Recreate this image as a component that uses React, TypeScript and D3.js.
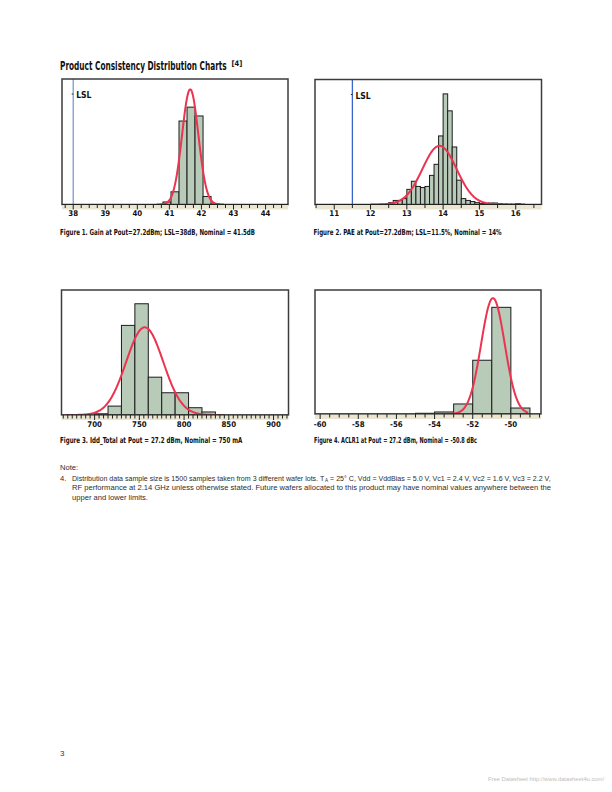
import React, { useLayoutEffect, useRef, useState } from 'react';
import * as d3 from 'd3';

const FONT = "'Liberation Sans Narrow', 'DejaVu Sans Condensed', 'Arial Narrow', sans-serif";
const BODY_FONT = "'Liberation Sans Narrow', 'Liberation Sans', 'DejaVu Sans', Arial, sans-serif";

// ---------- Figure 1: Gain ----------
const gainBinStart = 40.8;
const gainBinWidth = 0.25;
const gainCounts = [13, 65, 427, 498, 453, 41, 3];
const gainFit = { mean: 41.65, sd: 0.254, from: 40.6, to: 42.7 };
const gainTicks = [38, 39, 40, 41, 42, 43, 44];

// ---------- Figure 2: PAE ----------
const paeBinStart = 12.5;
const paeBinWidth = 0.125;
const paeCounts = [5, 11, 11, 16, 41, 63, 49, 46, 49, 79, 109, 186, 300, 254, 156, 66, 16, 11, 8, 5, 3, 3, 4, 4, 2, 1, 1, 1, 2, 1];
const paeFit = { mean: 13.9, sd: 0.47, from: 12.0, to: 15.8 };
const paeTicks = [11, 12, 13, 14, 15, 16];

// ---------- Figure 3: Idd ----------
const iddBinStart = 700;
const iddBinWidth = 15;
const iddCounts = [6, 44, 443, 550, 187, 110, 110, 36, 15];
const iddFit = { mean: 756, sd: 20.7, from: 668, to: 845 };
const iddTicks = [700, 750, 800, 850, 900];

// ---------- Figure 4: ACLR1 ----------
const aclrBinStart = -55;
const aclrBinWidth = 1;
const aclrCounts = [6, 17, 84, 450, 893, 50];
const aclrFit = { mean: -50.94, sd: 0.617, from: -53.4, to: -49.1 };
const aclrTicks = [-60, -58, -56, -54, -52, -50];

const SAMPLE_N = 1500;

type FitProps = {
  x: number; y: number; target: number; size: number; text: string;
  family: string; weight?: string; fill?: string;
};

// Text drawn at a fixed font size, squeezed horizontally (condensed) to a target width.
function FitText({ x, y, target, size, text, family, weight, fill }: FitProps) {
  const ref = useRef<SVGTextElement>(null);
  const [sx, setSx] = useState(1);
  useLayoutEffect(() => {
    const el = ref.current;
    if (!el) return;
    const len = el.getComputedTextLength();
    if (len > 0) setSx(target / len);
  }, [target, text, size]);
  return (
    <g transform={`translate(${x},${y}) scale(${sx},1)`}>
      <text ref={ref} x={0} y={0} fontFamily={family} fontWeight={weight} fontSize={size} fill={fill || '#111'}>
        {text}
      </text>
    </g>
  );
}

// A line with a subscript, made of separate text pieces, scaled to a target width.
function SubLine({ x, y, target, size, before, sub, after }:
  { x: number; y: number; target: number; size: number; before: string; sub: string; after: string }) {
  const r1 = useRef<SVGTextElement>(null);
  const r2 = useRef<SVGTextElement>(null);
  const r3 = useRef<SVGTextElement>(null);
  const [m, setM] = useState({ l1: 0, l2: 0, sx: 1 });
  useLayoutEffect(() => {
    if (!r1.current || !r2.current || !r3.current) return;
    const l1 = r1.current.getComputedTextLength();
    const l2 = r2.current.getComputedTextLength();
    const l3 = r3.current.getComputedTextLength();
    const total = l1 + 0.4 + l2 + l3;
    if (total > 0) setM({ l1, l2, sx: target / total });
  }, [before, sub, after, target, size]);
  return (
    <g transform={`translate(${x},${y}) scale(${m.sx},1)`}>
      <text ref={r1} x={0} y={0}>{before}</text>
      <text ref={r2} x={m.l1 + 0.4} y={1.6} fontSize={size * 0.66}>{sub}</text>
      <text ref={r3} x={m.l1 + 0.4 + m.l2} y={0}>{after}</text>
    </g>
  );
}

type ChartProps = {
  left: number; right: number; top: number; base: number;
  domain: [number, number]; yMax: number;
  binStart: number; binWidth: number; counts: number[];
  fit: { mean: number; sd: number; from: number; to: number };
  ticks: number[]; minorStep: number;
  lsl?: number; lslColor?: string;
  caption: string; capX: number; capY: number; capLen: number;
  labelY: number;
};

function Histo(p: ChartProps) {
  const x = d3.scaleLinear().domain(p.domain).range([p.left, p.right]);
  const y = d3.scaleLinear().domain([0, p.yMax]).range([p.base, p.top]);
  const norm = (v: number) =>
    (SAMPLE_N * p.binWidth) / (p.fit.sd * Math.sqrt(2 * Math.PI)) *
    Math.exp(-0.5 * ((v - p.fit.mean) / p.fit.sd) ** 2);
  const pts = d3.range(0, 301).map((i) => p.fit.from + (i / 300) * (p.fit.to - p.fit.from));
  const line = d3.line<number>().x((v) => x(v)).y((v) => y(norm(v))).curve(d3.curveBasis);
  const minor: number[] = [];
  const start = Math.ceil(p.domain[0] / p.minorStep) * p.minorStep;
  for (let v = start; v <= p.domain[1] + 1e-9; v += p.minorStep) minor.push(+v.toFixed(6));
  const isMajor = (v: number) => p.ticks.some((t) => Math.abs(t - v) < 1e-6);
  const clipId = `clip-${p.left}-${p.top}`;
  return (
    <g>
      <defs>
        <clipPath id={clipId}>
          <rect x={p.left} y={p.top} width={p.right - p.left} height={p.base - p.top + 1} />
        </clipPath>
      </defs>
      <rect x={p.left} y={p.top} width={p.right - p.left} height={p.base - p.top} fill="#ffffff" />
      <g clipPath={`url(#${clipId})`}>
        {p.lsl !== undefined && (
          <g>
            <line x1={x(p.lsl)} x2={x(p.lsl)} y1={p.top} y2={p.base} stroke={p.lslColor} strokeWidth={1.3} />
            <line x1={x(p.lsl) - 1.5} x2={x(p.lsl)} y1={p.top + 15} y2={p.top + 15} stroke="#222" strokeWidth={1} />
            <text x={x(p.lsl) + 3} y={p.top + 19} fontFamily={FONT} fontWeight="bold" fontSize={8.5} fill="#111">LSL</text>
          </g>
        )}
        {p.counts.map((c, i) =>
          c > 0 ? (
            <rect key={i}
              x={x(p.binStart + i * p.binWidth)}
              y={y(c)}
              width={x(p.binStart + (i + 1) * p.binWidth) - x(p.binStart + i * p.binWidth)}
              height={p.base - y(c)}
              fill="#b8cab8" stroke="#1c1c1c" strokeWidth={1} />
          ) : null
        )}
        <path d={line(pts) || ''} fill="none" stroke="#ec3450" strokeWidth={2} strokeLinejoin="round" />
      </g>
      <rect x={p.left} y={p.top} width={p.right - p.left} height={p.base - p.top} fill="none" stroke="#3c3c3c" strokeWidth={1.5} />
      <rect x={p.left} y={p.base} width={p.right - p.left} height={5} fill="#ebe6d2" />
      <line x1={p.left} x2={p.right} y1={p.base} y2={p.base} stroke="#222" strokeWidth={1.2} />
      {minor.map((v) => (
        <line key={v} x1={x(v)} x2={x(v)} y1={p.base} y2={p.base + (isMajor(v) ? 5 : 3.5)} stroke="#222" strokeWidth={1} />
      ))}
      {p.ticks.map((t) => (
        <text key={t} x={x(t)} y={p.labelY} textAnchor="middle" fontFamily={FONT} fontWeight="bold" fontSize={7.8} fill="#111">{t}</text>
      ))}
      <FitText x={p.capX} y={p.capY} target={p.capLen} size={8.2} text={p.caption} family={FONT} weight="bold" />
    </g>
  );
}

const TITLE = 'Product Consistency Distribution Charts';
const NOTE1a = 'Distribution data sample size is 1500 samples taken from 3 different wafer lots. T';
const NOTE1sub = 'A';
const NOTE1b = '\u00a0= 25° C, Vdd = VddBias = 5.0 V, Vc1 = 2.4 V, Vc2 = 1.6 V, Vc3 = 2.2 V,';
const NOTE2 = 'RF performance at 2.14 GHz unless otherwise stated. Future wafers allocated to this product may have nominal values anywhere between the';
const NOTE3 = 'upper and lower limits.';

export default function App() {
  return (
    <svg width={612} height={792} viewBox="0 0 612 792"
      style={{ position: 'absolute', left: 0, top: 0, background: '#fff' }}>
      <rect x={0} y={0} width={612} height={792} fill="#fff" />
      <FitText x={60} y={69.5} target={167} size={11.5} text={TITLE} family={FONT} weight="bold" />
      <text x={231.5} y={66} fontFamily={FONT} fontWeight="bold" fontSize={7.5} fill="#111">[4]</text>

      <Histo left={62} right={288} top={79} base={204.5} domain={[37.65, 44.7]} yMax={642}
        binStart={gainBinStart} binWidth={gainBinWidth} counts={gainCounts} fit={gainFit}
        ticks={gainTicks} minorStep={0.25} lsl={38} lslColor="#7d9bd6"
        caption="Figure 1. Gain at Pout=27.2dBm; LSL=38dB, Nominal = 41.5dB" capX={60} capY={234.5} capLen={195}
        labelY={216} />

      <Histo left={315} right={541.5} top={79.5} base={204.5} domain={[10.47, 16.71]} yMax={339}
        binStart={paeBinStart} binWidth={paeBinWidth} counts={paeCounts} fit={paeFit}
        ticks={paeTicks} minorStep={0.5} lsl={11.5} lslColor="#3a66cc"
        caption="Figure 2. PAE at Pout=27.2dBm; LSL=11.5%, Nominal = 14%" capX={313.5} capY={234.5} capLen={188}
        labelY={216} />

      <Histo left={61.5} right={288.5} top={290} base={415} domain={[663, 916.7]} yMax={618}
        binStart={iddBinStart} binWidth={iddBinWidth} counts={iddCounts} fit={iddFit}
        ticks={iddTicks} minorStep={5}
        caption="Figure 3. Idd_Total at Pout = 27.2 dBm, Nominal = 750 mA" capX={60} capY={442.5} capLen={182}
        labelY={427} />

      <Histo left={315} right={541} top={290} base={414} domain={[-60.27, -48.42]} yMax={1038}
        binStart={aclrBinStart} binWidth={aclrBinWidth} counts={aclrCounts} fit={aclrFit}
        ticks={aclrTicks} minorStep={0.5}
        caption="Figure 4. ACLR1 at Pout = 27.2 dBm, Nominal = -50.8 dBc" capX={314} capY={442.5} capLen={163}
        labelY={427} />

      <g fontFamily={BODY_FONT} fontSize={7.6} fill="#2e2e2e">
        <text x={60} y={470}>Note:</text>
        <text x={60} y={480.5}>4.</text>
        <SubLine x={72} y={480.5} target={479} size={7.6} before={NOTE1a} sub={NOTE1sub} after={NOTE1b} />
        <text x={72} y={490} textLength={479} lengthAdjust="spacingAndGlyphs">{NOTE2}</text>
        <text x={72} y={499.5}>{NOTE3}</text>
      </g>

      <text x={60} y={756} fontFamily={BODY_FONT} fontSize={8} fill="#333">3</text>
      <text x={488} y={781} fontFamily={BODY_FONT} fontSize={5.6} fill="#bdbdbd"
        textLength={116} lengthAdjust="spacingAndGlyphs">Free Datasheet http://www.datasheet4u.com/</text>
    </svg>
  );
}
